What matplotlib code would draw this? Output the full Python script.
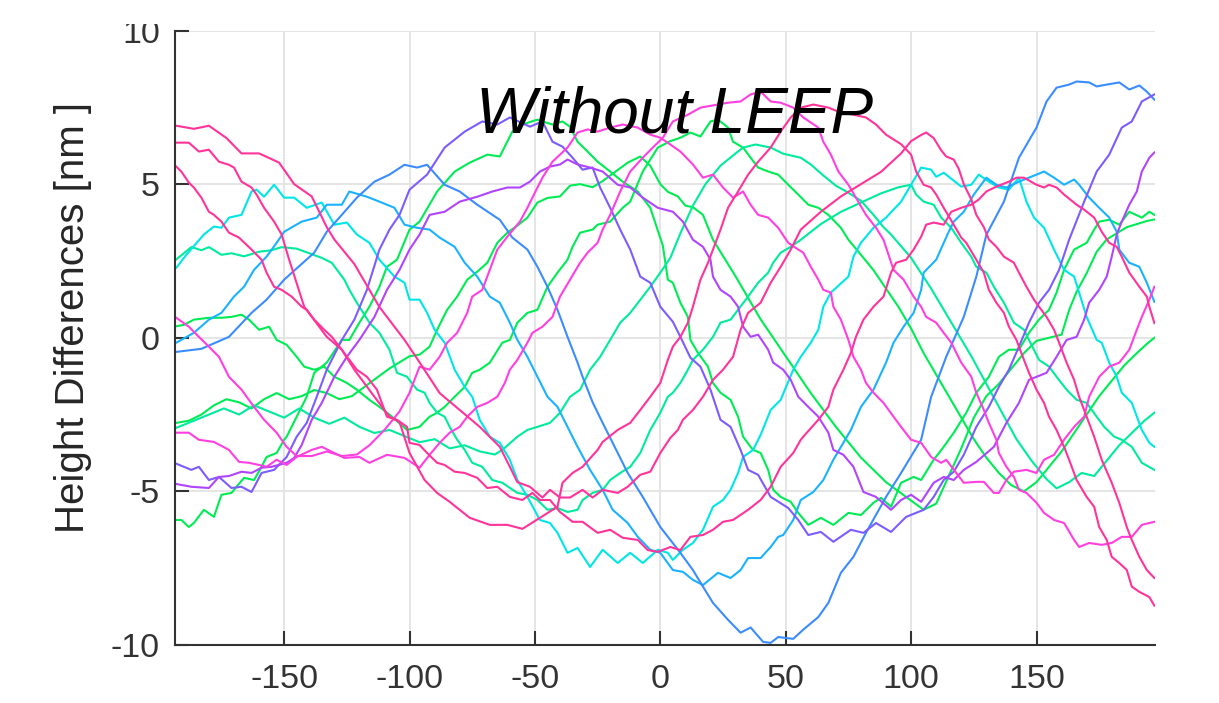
import matplotlib
matplotlib.use("Agg")
import matplotlib.pyplot as plt
from matplotlib.patches import Rectangle

plt.rcParams["font.family"] = ["Liberation Sans", "DejaVu Sans"]
plt.rcParams["axes.unicode_minus"] = False

# height-difference profiles: x position and height [nm]
pink1_x = [-193, -186, -180, -173, -167, -160, -152, -146, -139, -133, -130, -122, -112, -102, -96, -88, -80, -72, -64, -60, -57, -52, -47, -44, -40, -36, -31, -27, -23, -17, -13, -8, -4, 0, 4, 7, 9, 13, 17, 21, 25, 29, 32, 35, 40, 44, 48, 52, 56, 64, 72, 80, 88, 96, 100, 104, 106, 109, 112, 114, 117, 119, 121, 124, 126, 129, 131, 134, 137, 141, 143, 146, 149, 151, 154, 157, 159, 162, 165, 167, 170, 173, 176, 180, 183, 186, 188, 191, 194, 197]
pink1_y = [6.9, 6.8, 6.9, 6.5, 6.0, 6.0, 5.7, 5.0, 4.6, 3.6, 3.2, 2.4, 1.0, -0.07, -0.8, -1.8, -2.35, -2.9, -3.55, -4.2, -4.7, -4.85, -5.2, -4.95, -5.2, -5.2, -4.95, -5.2, -4.95, -5.05, -4.85, -4.46, -4.36, -3.75, -3.26, -3.0, -2.67, -2.35, -1.92, -1.37, -1.04, -0.62, 0.26, 0.81, 1.14, 1.79, 2.31, 2.87, 3.52, 4.1, 4.6, 5.0, 5.4, 6.0, 6.4, 6.6, 6.68, 6.5, 6.1, 5.9, 5.8, 5.5, 5.0, 4.5, 4.0, 3.6, 3.2, 2.96, 2.64, 2.44, 2.12, 1.66, 1.24, 1.01, 0.68, 0.26, -0.16, -0.81, -1.37, -1.92, -2.57, -3.22, -3.97, -4.72, -5.37, -6.16, -6.58, -7.13, -7.56, -7.82]

pink2_x = [-193, -188, -184, -180, -176, -172, -170, -167, -163, -161, -158, -154, -151, -148, -142, -133, -127, -122, -114, -108, -104, -100, -94, -89, -84, -76, -68, -61, -55, -48, -41, -39, -35, -31, -25, -23, -17, -12, -8, -4, 0, 3, 5, 8, 11, 13, 16, 19, 21, 24, 27, 31, 35, 39, 44, 48, 52, 56, 61, 67, 72, 77, 82, 86, 90, 96, 100, 102, 105, 108, 110, 113, 117, 120, 122, 126, 129, 131, 134, 137, 139, 142, 145, 147, 150, 153, 155, 158, 161, 163, 166, 170, 173, 175, 178, 180, 183, 186, 188, 191, 195, 197]
pink2_y = [6.35, 6.35, 6.06, 6.12, 5.73, 5.63, 5.54, 5.08, 4.89, 4.66, 4.23, 3.78, 3.36, 2.54, 1.01, 0.03, -0.39, -1.04, -1.92, -2.57, -2.74, -3.75, -4.63, -5.05, -5.34, -5.86, -6.09, -6.09, -6.22, -5.86, -5.5, -4.72, -4.4, -4.2, -3.65, -3.39, -3.0, -2.77, -2.35, -1.92, -1.47, -0.72, -0.29, 0.03, 0.49, 1.01, 1.89, 2.44, 2.87, 3.52, 4.23, 4.76, 5.31, 5.73, 6.19, 6.71, 7.17, 7.49, 7.59, 7.49, 7.33, 7.26, 7.17, 6.94, 6.61, 6.3, 5.96, 5.41, 4.98, 4.89, 4.66, 4.23, 3.68, 3.26, 3.09, 2.54, 2.12, 1.56, 1.14, 0.81, 0.36, -0.07, -0.72, -1.14, -1.69, -2.12, -2.57, -3.0, -3.55, -3.97, -4.63, -5.18, -5.5, -6.16, -6.58, -7.13, -7.33, -7.56, -8.1, -8.27, -8.44, -8.72]

pink3_x = [-193, -191, -188, -186, -183, -180, -178, -175, -172, -168, -163, -159, -157, -154, -151, -147, -143, -141, -138, -134, -131, -127, -124, -121, -117, -113, -109, -105, -101, -100, -96, -93, -89, -86, -82, -78, -73, -69, -65, -60, -55, -51, -48, -44, -40, -35, -31, -25, -20, -15, -9, -5, -1, 4, 8, 12, 17, 21, 25, 29, 35, 40, 44, 48, 53, 56, 57, 63, 67, 69, 73, 76, 78, 81, 85, 89, 92, 94, 98, 101, 104, 106, 109, 113, 116, 120, 124, 127, 130, 134, 139, 142, 145, 150, 153, 155, 158, 161, 166, 169, 173, 176, 179, 182, 184, 187, 191, 194, 195, 197]
pink3_y = [5.57, 5.41, 5.05, 4.89, 4.56, 4.1, 4.0, 3.78, 3.42, 3.26, 2.87, 2.54, 2.12, 1.66, 1.56, 1.34, 1.01, 0.91, 0.59, 0.26, 0.03, -0.39, -0.72, -1.04, -1.27, -1.69, -2.57, -2.67, -2.9, -3.42, -3.49, -3.75, -4.07, -4.14, -4.36, -4.4, -4.56, -4.89, -4.85, -5.18, -5.28, -5.05, -5.28, -5.28, -5.67, -5.99, -5.99, -6.35, -6.25, -6.51, -6.58, -6.91, -6.97, -6.81, -6.91, -6.48, -6.42, -6.25, -5.99, -5.93, -5.6, -5.28, -4.85, -4.2, -3.75, -3.32, -3.22, -2.67, -2.25, -1.69, -1.04, -0.49, 0.03, 0.59, 1.01, 1.34, 2.12, 2.44, 2.54, 2.87, 3.29, 3.68, 3.75, 3.68, 4.1, 4.23, 4.33, 4.5, 4.76, 4.92, 5.08, 5.21, 5.21, 4.98, 4.89, 4.98, 4.89, 4.66, 4.33, 4.17, 3.91, 3.45, 3.09, 2.96, 2.64, 2.12, 1.66, 1.34, 1.01, 0.48]

magenta1_x = [-193, -188, -184, -178, -172, -168, -164, -160, -157, -153, -149, -145, -139, -135, -130, -126, -120, -116, -109, -102, -96, -92, -88, -84, -80, -77, -73, -69, -65, -62, -60, -57, -53, -51, -47, -43, -40, -36, -32, -29, -25, -23, -20, -16, -12, -7, -3, 1, 5, 11, 16, 27, 32, 36, 40, 44, 48, 53, 57, 63, 65, 68, 71, 75, 78, 82, 86, 89, 93, 97, 101, 104, 106, 110, 113, 116, 120, 124, 126, 129, 131, 134, 135, 138, 141, 143, 146, 150, 153, 157, 161, 165, 167, 171, 176, 180, 184, 188, 192, 197]
magenta1_y = [-3.09, -3.09, -3.32, -3.39, -3.65, -4.04, -4.07, -4.14, -4.2, -3.97, -4.14, -3.88, -3.65, -3.55, -3.75, -3.91, -3.88, -4.07, -3.81, -3.91, -4.23, -3.81, -3.42, -3.09, -2.9, -2.57, -2.25, -2.12, -1.92, -1.47, -1.04, -0.72, -0.16, 0.16, 0.36, 0.68, 1.34, 1.89, 2.44, 2.77, 3.09, 3.52, 4.0, 4.76, 5.41, 5.86, 6.19, 6.51, 7.04, 7.26, 7.49, 7.65, 7.69, 7.92, 8.01, 7.69, 7.65, 7.49, 7.17, 6.84, 6.38, 5.96, 5.41, 4.98, 4.56, 4.0, 3.58, 3.19, 2.21, 1.89, 1.34, 1.01, 0.68, 0.49, 0.16, -0.16, -0.81, -1.27, -1.79, -2.35, -2.77, -3.32, -3.75, -4.2, -4.53, -4.95, -5.05, -5.37, -5.7, -5.93, -6.03, -6.58, -6.81, -6.68, -6.74, -6.68, -6.48, -6.48, -6.09, -5.99]

magenta2_x = [-193, -188, -184, -180, -176, -172, -167, -162, -158, -153, -149, -145, -139, -133, -127, -121, -116, -110, -104, -100, -96, -92, -88, -85, -81, -77, -75, -71, -68, -65, -61, -56, -53, -49, -47, -43, -37, -33, -29, -25, -20, -15, -9, -4, 0, 4, 8, 13, 17, 21, 25, 29, 33, 36, 39, 43, 47, 51, 55, 57, 60, 63, 65, 68, 69, 72, 75, 77, 80, 82, 85, 89, 93, 96, 100, 104, 108, 112, 114, 118, 121, 126, 129, 133, 135, 138, 141, 146, 150, 153, 157, 161, 165, 169, 171, 175, 179, 183, 187, 190, 192, 195, 197]
magenta2_y = [0.65, 0.36, 0.03, -0.29, -0.62, -1.27, -1.69, -2.25, -2.67, -3.09, -3.55, -3.85, -3.85, -3.7, -3.85, -3.8, -3.5, -3.0, -2.4, -1.79, -0.94, -1.04, -0.62, -0.16, 0.16, 0.81, 1.34, 1.56, 2.21, 2.87, 3.29, 3.78, 4.23, 4.89, 5.21, 5.73, 6.19, 6.68, 6.78, 6.71, 6.84, 6.94, 6.84, 6.61, 6.51, 6.29, 6.06, 5.64, 5.21, 5.31, 4.89, 4.56, 4.76, 4.33, 4.0, 3.91, 3.58, 3.09, 2.87, 2.77, 2.31, 1.89, 1.56, 1.47, 1.01, 0.59, -0.07, -0.62, -1.04, -1.47, -1.79, -2.12, -2.57, -2.9, -3.32, -3.42, -3.88, -4.07, -3.97, -4.4, -4.72, -4.69, -4.69, -5.05, -5.05, -4.63, -4.36, -4.3, -4.4, -3.97, -3.81, -3.32, -2.9, -2.57, -1.92, -1.27, -0.94, -0.81, -0.39, 0.26, 0.68, 1.24, 1.66]

violet_x = [-193, -187, -180, -176, -172, -167, -163, -159, -155, -149, -146, -143, -139, -135, -130, -125, -120, -114, -109, -104, -100, -96, -92, -86, -80, -73, -67, -61, -56, -52, -48, -44, -40, -37, -33, -28, -23, -17, -12, -7, -1, 5, 9, 13, 17, 20, 21, 24, 28, 31, 33, 36, 39, 43, 45, 49, 52, 55, 59, 63, 67, 69, 73, 77, 81, 86, 92, 96, 100, 104, 109, 113, 117, 121, 126, 133, 138, 143, 147, 154, 158, 162, 166, 169, 171, 175, 178, 180, 182, 184, 187, 190, 192, 195, 197]
violet_y = [-4.76, -4.85, -4.89, -4.53, -4.5, -4.36, -4.4, -4.23, -4.2, -4.07, -3.91, -3.49, -2.67, -2.12, -1.27, -0.62, -0.07, 0.68, 1.56, 2.21, 2.87, 3.36, 4.0, 4.1, 4.43, 4.59, 4.76, 4.89, 4.89, 5.08, 5.41, 5.57, 5.64, 5.8, 5.64, 5.54, 5.41, 4.98, 4.89, 4.56, 4.23, 4.1, 3.78, 3.19, 2.96, 2.54, 1.99, 1.56, 1.34, 1.01, 0.36, 0.03, 0.1, -0.39, -0.81, -1.04, -1.37, -1.92, -2.25, -2.57, -3.09, -3.65, -3.81, -4.2, -5.02, -5.18, -5.6, -5.28, -5.11, -5.34, -4.72, -4.53, -4.63, -4.3, -4.04, -3.55, -2.77, -2.12, -1.37, -1.14, -0.62, -0.07, 0.03, 0.59, 1.14, 1.56, 1.99, 2.64, 3.36, 3.78, 4.33, 4.76, 5.41, 5.86, 6.03]

bviolet_x = [-193, -187, -184, -180, -176, -171, -167, -163, -159, -154, -149, -145, -141, -137, -133, -127, -122, -117, -112, -108, -104, -100, -93, -86, -78, -71, -65, -60, -52, -47, -43, -39, -35, -31, -27, -24, -20, -16, -12, -8, -4, 0, 5, 8, 12, 16, 20, 24, 28, 32, 35, 39, 44, 51, 55, 59, 64, 69, 76, 81, 86, 92, 98, 105, 109, 113, 117, 121, 126, 131, 135, 139, 143, 147, 151, 155, 159, 163, 169, 174, 179, 184, 188, 192, 197]
bviolet_y = [-4.1, -4.3, -4.2, -4.63, -4.53, -4.89, -4.85, -5.02, -4.4, -4.3, -3.88, -3.22, -2.77, -1.92, -1.04, -0.07, 0.59, 1.56, 2.87, 3.52, 4.0, 4.82, 5.31, 6.19, 6.71, 7.04, 6.94, 7.17, 6.87, 7.04, 6.38, 6.22, 5.86, 5.47, 5.54, 4.89, 4.23, 3.52, 2.87, 1.99, 1.79, 1.01, 0.52, 0.03, -0.65, -0.94, -1.69, -2.67, -2.9, -3.65, -4.3, -4.46, -5.18, -5.54, -5.93, -6.42, -6.32, -6.64, -6.25, -6.35, -6.03, -6.32, -5.83, -5.6, -5.18, -4.63, -4.36, -3.81, -2.9, -2.25, -1.6, -1.04, -0.29, 0.49, 1.14, 1.56, 2.21, 3.19, 4.43, 5.41, 5.96, 6.84, 7.04, 7.69, 7.92]

blue_x = [-193, -183, -172, -163, -157, -150, -138, -133, -127, -121, -114, -108, -102, -97, -93, -86, -80, -73, -64, -59, -53, -49, -45, -41, -37, -33, -31, -27, -23, -19, -13, -7, 0, 8, 13, 17, 21, 27, 32, 36, 41, 44, 47, 53, 57, 63, 67, 72, 77, 82, 90, 96, 104, 108, 114, 121, 126, 130, 137, 143, 150, 154, 158, 163, 166, 171, 174, 178, 183, 187, 191, 194, 197]
blue_y = [-0.46, -0.36, 0.03, 0.81, 1.24, 1.89, 2.77, 3.45, 4.0, 4.56, 5.08, 5.31, 5.63, 5.54, 5.63, 4.98, 4.76, 4.33, 3.84, 3.26, 2.87, 2.31, 1.66, 0.91, 0.03, -0.81, -1.27, -2.1, -2.77, -3.42, -4.4, -5.18, -6.16, -7.0, -7.56, -8.1, -8.63, -9.18, -9.6, -9.43, -9.9, -9.93, -9.74, -9.8, -9.5, -9.09, -8.63, -7.65, -7.13, -6.35, -5.18, -4.4, -3.32, -1.92, -0.62, 0.68, 1.99, 3.35, 4.43, 5.86, 6.84, 7.69, 8.14, 8.24, 8.34, 8.31, 8.18, 8.24, 8.31, 8.08, 8.21, 8.01, 7.75]

sky_x = [-193, -186, -180, -175, -170, -166, -162, -157, -153, -150, -143, -137, -133, -127, -124, -117, -112, -106, -102, -97, -92, -88, -82, -78, -73, -68, -64, -60, -57, -53, -49, -45, -41, -37, -33, -28, -23, -19, -13, -9, -4, 0, 5, 9, 13, 17, 23, 28, 32, 35, 40, 44, 47, 49, 53, 56, 61, 65, 69, 76, 80, 85, 90, 93, 97, 101, 104, 105, 110, 115, 117, 121, 125, 130, 134, 138, 143, 150, 153, 157, 161, 165, 167, 171, 175, 179, 182, 183, 187, 191, 194, 197]
sky_y = [-0.16, 0.16, 0.59, 0.81, 1.34, 1.66, 2.21, 2.64, 3.09, 3.45, 3.78, 3.91, 4.33, 4.33, 4.76, 4.59, 4.43, 4.23, 3.68, 3.58, 3.52, 3.26, 2.96, 2.44, 1.99, 1.34, 1.14, 0.49, -0.07, -0.62, -1.27, -1.92, -2.25, -2.9, -3.55, -4.3, -4.95, -5.6, -6.03, -6.48, -6.9, -7.0, -7.56, -7.62, -7.88, -8.05, -7.65, -7.82, -7.56, -7.17, -7.17, -6.81, -6.48, -6.42, -5.93, -5.28, -5.02, -4.63, -3.97, -3.0, -2.25, -1.69, -0.81, -0.16, 0.36, 0.81, 1.56, 2.12, 2.54, 3.45, 3.78, 4.1, 4.66, 5.21, 4.98, 4.89, 5.08, 5.31, 5.41, 5.21, 4.98, 5.15, 4.98, 4.56, 4.23, 3.91, 3.45, 2.87, 2.44, 2.31, 1.79, 1.17]

cyan_x = [-193, -189, -182, -178, -175, -172, -167, -163, -161, -158, -154, -150, -146, -141, -135, -130, -125, -121, -116, -112, -106, -102, -100, -96, -93, -90, -86, -82, -78, -75, -72, -68, -64, -60, -57, -53, -48, -44, -41, -37, -33, -28, -23, -17, -12, -7, -1, 3, 5, 9, 13, 17, 21, 25, 28, 31, 33, 37, 40, 44, 48, 53, 56, 60, 63, 65, 68, 75, 77, 80, 85, 90, 96, 100, 104, 108, 110, 113, 120, 124, 127, 131, 135, 139, 143, 146, 149, 153, 157, 161, 165, 167, 170, 174, 176, 179, 182, 184, 188, 192, 195, 197]
cyan_y = [2.28, 2.7, 3.36, 3.62, 3.58, 3.91, 4.0, 4.76, 4.82, 4.59, 4.98, 4.56, 4.56, 4.23, 4.4, 3.68, 3.75, 3.36, 3.09, 2.54, 1.99, 1.79, 1.24, 1.24, 0.81, 0.26, -0.16, -1.04, -1.6, -1.92, -2.67, -3.22, -3.42, -3.97, -4.63, -5.18, -5.93, -6.03, -6.35, -7.0, -6.84, -7.46, -6.9, -7.33, -7.0, -7.33, -6.9, -7.0, -7.23, -6.9, -6.68, -6.25, -5.5, -5.28, -4.95, -4.4, -3.88, -3.65, -3.16, -2.35, -2.02, -1.04, -0.62, -0.16, 0.26, 1.01, 1.47, 1.99, 2.64, 3.09, 3.58, 3.91, 4.43, 4.98, 5.54, 5.47, 5.24, 5.37, 4.92, 4.98, 5.31, 5.08, 4.89, 4.82, 5.21, 4.43, 3.91, 3.58, 2.87, 2.21, 1.99, 1.47, 0.68, -0.07, -0.16, -0.81, -1.27, -1.79, -2.12, -3.0, -3.42, -3.55]

aqua1_x = [-193, -190, -187, -183, -180, -175, -171, -166, -160, -155, -151, -145, -140, -135, -131, -126, -124, -121, -116, -112, -108, -105, -101, -97, -94, -92, -89, -86, -84, -81, -78, -75, -71, -67, -63, -57, -53, -49, -45, -41, -37, -33, -31, -27, -23, -20, -16, -12, -8, -4, 0, 3, 5, 8, 11, 13, 17, 21, 24, 28, 31, 35, 39, 43, 45, 48, 52, 56, 64, 72, 80, 88, 95, 100, 102, 105, 109, 112, 116, 120, 124, 126, 130, 133, 137, 141, 145, 147, 151, 155, 158, 162, 166, 170, 174, 177, 181, 184, 188, 192, 197]
aqua1_y = [2.55, 2.75, 2.95, 2.85, 2.95, 2.7, 2.75, 2.65, 2.8, 2.85, 2.95, 2.9, 2.75, 2.6, 2.44, 1.89, 1.56, 1.14, 0.49, 0.16, -0.39, -1.14, -1.27, -1.69, -1.79, -2.12, -2.44, -2.57, -2.9, -3.32, -3.65, -4.07, -4.2, -4.63, -4.72, -5.05, -5.11, -5.28, -5.6, -5.54, -5.67, -5.6, -5.28, -5.05, -4.95, -4.63, -4.4, -4.2, -3.75, -3.0, -2.44, -1.92, -1.79, -1.47, -1.04, -0.72, -0.39, 0.03, 0.49, 0.59, 0.91, 1.34, 1.79, 2.12, 2.44, 2.77, 2.96, 3.19, 3.7, 4.1, 4.4, 4.7, 4.9, 4.98, 4.66, 4.43, 4.33, 3.91, 3.58, 3.09, 2.64, 2.31, 2.12, 1.66, 1.14, 0.49, 0.26, -0.07, -0.72, -0.94, -1.27, -1.69, -2.02, -2.12, -2.57, -2.9, -3.22, -3.32, -3.55, -4.07, -4.3]

aqua2_x = [-193, -186, -180, -174, -168, -162, -156, -150, -144, -138, -132, -126, -120, -114, -108, -102, -96, -90, -84, -78, -72, -66, -63, -57, -53, -49, -44, -40, -36, -32, -28, -24, -20, -16, -12, -7, -4, 0, 4, 8, 13, 18, 24, 30, 33, 38, 44, 49, 56, 60, 65, 70, 75, 80, 85, 89, 92, 100, 108, 116, 124, 130, 136, 142, 148, 154, 158, 163, 168, 173, 178, 183, 188, 193, 197]
aqua2_y = [-2.93, -2.7, -2.5, -2.3, -2.5, -2.2, -2.4, -2.6, -2.3, -2.6, -2.8, -2.6, -2.9, -3.1, -3.0, -3.2, -3.4, -3.3, -3.6, -3.5, -3.7, -3.8, -3.65, -3.22, -3.0, -2.9, -2.77, -2.44, -1.92, -1.69, -1.04, -0.62, -0.07, 0.49, 0.81, 1.34, 1.66, 2.12, 2.6, 3.4, 4.3, 5.0, 5.6, 6.0, 6.19, 6.29, 6.19, 5.99, 5.86, 5.64, 5.28, 4.95, 4.72, 4.46, 4.0, 3.6, 3.36, 2.6, 1.6, 0.5, -0.6, -1.5, -2.4, -3.3, -4.0, -4.6, -4.9, -4.7, -4.4, -4.5, -4.0, -3.5, -3.1, -2.7, -2.44]

green1_x = [-193, -191, -188, -186, -182, -178, -175, -171, -166, -162, -159, -157, -153, -150, -149, -145, -141, -138, -133, -127, -124, -120, -116, -112, -109, -105, -100, -96, -89, -82, -76, -69, -64, -59, -55, -49, -47, -43, -39, -36, -33, -29, -25, -20, -15, -9, -4, 1, 3, 5, 8, 11, 12, 15, 19, 21, 24, 28, 31, 33, 36, 37, 40, 43, 45, 48, 52, 55, 59, 64, 69, 75, 80, 85, 88, 92, 96, 101, 104, 109, 113, 117, 122, 126, 131, 135, 139, 143, 147, 151, 155, 158, 161, 165, 170, 173, 175, 179, 183, 187, 192, 195, 197]
green1_y = [-5.93, -5.93, -6.16, -6.03, -5.6, -5.83, -5.11, -5.05, -4.56, -4.63, -4.2, -3.88, -3.75, -3.32, -3.22, -2.57, -1.92, -1.14, -0.81, -0.07, -0.07, 0.49, 1.01, 1.66, 2.31, 2.54, 3.52, 3.78, 4.76, 5.41, 5.7, 5.96, 5.9, 6.71, 6.94, 7.1, 7.04, 6.94, 7.04, 6.87, 6.38, 6.06, 5.73, 5.41, 5.08, 4.76, 4.23, 3.0, 1.89, 1.79, 1.14, 0.68, -0.07, -0.49, -0.94, -1.47, -1.79, -2.02, -2.57, -3.22, -3.55, -3.65, -3.75, -4.3, -4.95, -5.18, -5.34, -5.7, -6.09, -5.86, -6.09, -5.7, -5.77, -5.37, -5.21, -5.5, -4.72, -4.53, -4.63, -3.97, -3.55, -3.09, -2.44, -1.79, -1.27, -0.62, -0.39, -0.39, 0.16, 0.59, 0.91, 1.47, 2.21, 2.87, 3.09, 3.52, 3.78, 3.84, 3.68, 4.1, 3.91, 4.1, 4.0]

green2_x = [-194, -190, -186, -180, -175, -171, -167, -164, -160, -156, -153, -149, -145, -142, -138, -134, -130, -125, -121, -116, -112, -107, -101, -96, -92, -89, -86, -82, -78, -75, -72, -68, -63, -60, -57, -53, -49, -45, -41, -37, -35, -32, -27, -25, -20, -15, -12, -7, -1, 4, 8, 12, 16, 20, 23, 27, 29, 33, 36, 39, 43, 47, 51, 55, 59, 63, 67, 72, 75, 80, 85, 90, 95, 100, 105, 110, 115, 120, 125, 130, 135, 140, 145, 150, 155, 160, 165, 170, 175, 180, 185, 190, 194, 197]
green2_y = [0.36, 0.42, 0.59, 0.65, 0.65, 0.68, 0.75, 0.59, 0.26, 0.36, -0.07, -0.23, -0.62, -0.94, -1.04, -0.94, -1.27, -1.47, -1.69, -2.02, -2.25, -2.57, -3.0, -2.9, -2.57, -2.44, -2.25, -1.92, -1.6, -1.14, -1.04, -0.81, -0.16, -0.07, 0.49, 0.81, 0.91, 1.66, 2.12, 2.54, 2.96, 3.42, 3.52, 3.68, 3.78, 4.23, 4.43, 5.41, 6.19, 6.4, 6.51, 6.68, 6.55, 7.04, 7.1, 6.84, 6.38, 6.19, 5.86, 5.54, 5.41, 5.31, 4.98, 4.66, 4.33, 4.23, 4.0, 3.58, 3.19, 2.7, 2.2, 1.6, 1.0, 0.3, -0.5, -1.2, -1.9, -2.6, -3.3, -3.9, -4.4, -4.8, -5.0, -4.7, -4.2, -3.7, -3.1, -2.5, -1.9, -1.4, -0.9, -0.5, -0.2, 0.0]

green3_x = [-193, -188, -183, -178, -173, -168, -163, -158, -153, -148, -143, -138, -133, -128, -123, -118, -113, -108, -104, -100, -96, -92, -89, -85, -81, -77, -73, -69, -65, -61, -57, -53, -49, -45, -40, -36, -32, -27, -23, -18, -13, -8, -4, 0, 3, 7, 10, 13, 17, 21, 30, 40, 50, 60, 70, 80, 90, 100, 105, 110, 115, 120, 125, 130, 135, 140, 145, 150, 155, 160, 163, 166, 170, 174, 178, 182, 186, 190, 194, 197]
green3_y = [-2.77, -2.7, -2.5, -2.2, -2.0, -2.1, -2.3, -2.0, -1.8, -2.0, -1.9, -1.7, -1.8, -2.0, -1.9, -1.6, -1.3, -1.0, -0.8, -0.6, -0.55, -0.29, 0.26, 0.91, 1.34, 1.89, 2.15, 2.44, 3.09, 3.42, 3.65, 3.91, 4.4, 4.55, 4.6, 4.95, 5.0, 4.9, 5.1, 5.4, 5.7, 5.9, 5.6, 5.0, 4.75, 4.6, 4.3, 4.25, 4.0, 3.19, 2.0, 0.6, -0.6, -1.8, -2.9, -3.9, -4.7, -5.3, -5.6, -5.4, -4.5, -3.6, -2.6, -1.9, -1.5, -1.0, -0.5, -0.1, 0.0, 0.1, 0.9, 1.5, 2.1, 2.8, 3.2, 3.4, 3.6, 3.7, 3.8, 3.85]

PINK = "#ff3399"
MAGENTA = "#ff3fe0"
VIOLET = "#b044ff"
BVIOLET = "#7c5cff"
BLUE = "#3b8cff"
SKY = "#1ab2ff"
CYAN = "#00e6e6"
AQUA = "#00eb9c"
GREEN = "#00ec55"

series = [
    (green1_x, green1_y, GREEN),
    (green2_x, green2_y, GREEN),
    (green3_x, green3_y, GREEN),
    (aqua1_x, aqua1_y, AQUA),
    (aqua2_x, aqua2_y, AQUA),
    (cyan_x, cyan_y, CYAN),
    (sky_x, sky_y, SKY),
    (blue_x, blue_y, BLUE),
    (bviolet_x, bviolet_y, BVIOLET),
    (violet_x, violet_y, VIOLET),
    (magenta1_x, magenta1_y, MAGENTA),
    (magenta2_x, magenta2_y, MAGENTA),
    (pink1_x, pink1_y, PINK),
    (pink2_x, pink2_y, PINK),
    (pink3_x, pink3_y, PINK),
]

xticks = [-150, -100, -50, 0, 50, 100, 150]
yticks = [-10, -5, 0, 5, 10]

fig = plt.figure(figsize=(12.19, 7.03), dpi=100)
ax = fig.add_axes([0.1436, 0.0825, 0.804, 0.8741])

for xs, ys, col in series:
    ax.plot(xs, ys, color=col, lw=1.5, solid_joinstyle="round")

ax.set_xlim(-193.5, 197.3)
ax.set_ylim(-10, 10)
ax.set_xticks(xticks)
ax.set_yticks(yticks)
ax.grid(True, color="#e3e3e3", lw=1.3)
ax.set_axisbelow(True)
for s in ["top", "right"]:
    ax.spines[s].set_visible(False)
for s in ["left", "bottom"]:
    ax.spines[s].set_color("#333333")
    ax.spines[s].set_linewidth(1.5)
ax.tick_params(direction="in", length=10, width=1.5, color="#333333",
               labelsize=24.5, labelcolor="#333333")
ax.tick_params(axis="x", pad=14)
ax.tick_params(axis="y", pad=11)
ax.set_ylabel("Height Differences [nm ]", fontsize=29, color="#262626")
ax.yaxis.set_label_coords(-0.085, 0.533)
ax.text(0.51, 0.834, "Without LEEP", transform=ax.transAxes, ha="center",
        va="baseline", fontsize=46, fontstyle="italic", color="black")

# the source image is cut just above the plot, clipping the top tick label
fig.patches.append(Rectangle((0, 1 - 24 / 703), 1, 24 / 703, transform=fig.transFigure,
                             facecolor="white", edgecolor="none", zorder=10))

fig.savefig("out.png", dpi=100)
